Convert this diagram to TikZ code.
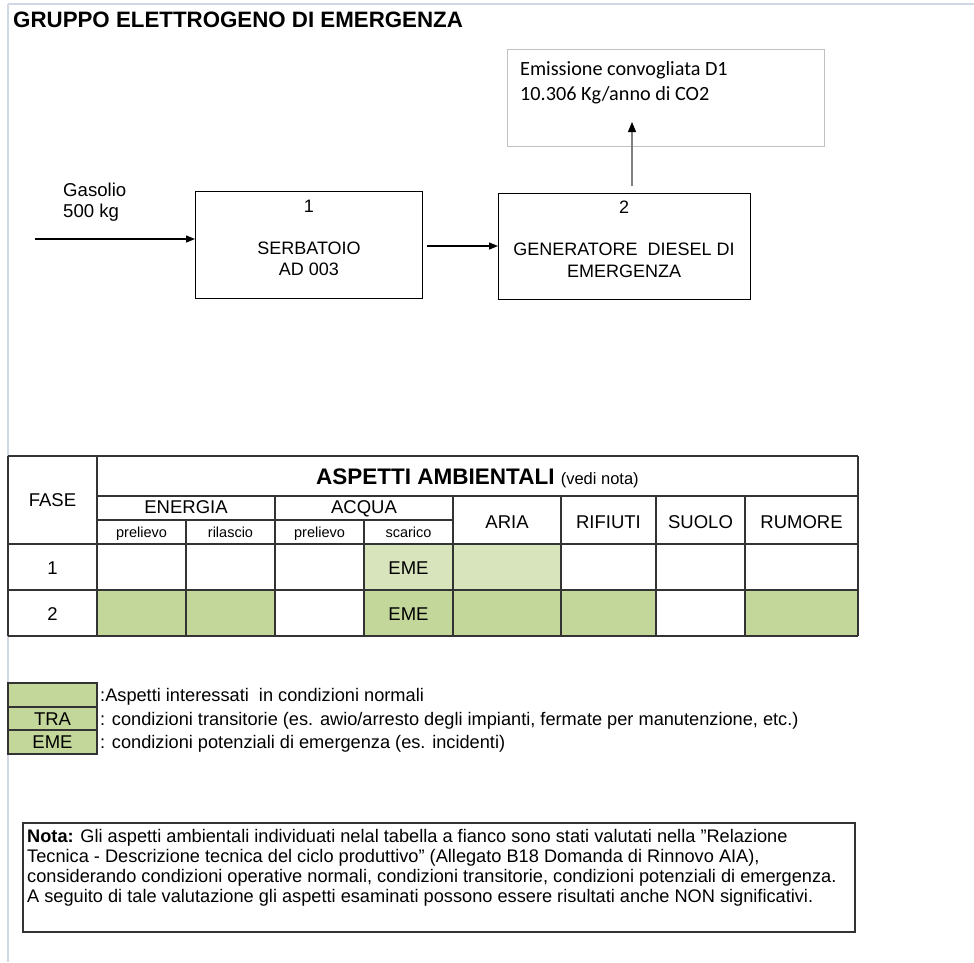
\documentclass[tikz,border=0pt]{standalone}
\usepackage{fontspec}
\setmainfont{Liberation Sans}
\newfontfamily\calib{Carlito}
\usetikzlibrary{arrows.meta}
\definecolor{dkg}{HTML}{C4D79B}
\definecolor{ltg}{HTML}{D8E4BC}
\definecolor{pageedge}{HTML}{D0D7E5}
\definecolor{boxgray}{HTML}{C0C0C0}
\definecolor{gridc}{HTML}{333333}
\begin{document}
\begin{tikzpicture}[x=1pt,y=-1pt,
  arr/.style={line width=1.2pt,-{Triangle[length=9pt,width=7pt]}},
  procbox/.style={draw=black,line width=1.3pt,anchor=north west,inner sep=0pt},
  txt/.style={anchor=base,inner sep=0pt,font=\fontsize{18}{21}\selectfont},
  tbl/.style={anchor=base,inner sep=0pt,font=\fontsize{18.5}{21}\selectfont},
  tsm/.style={anchor=base,inner sep=0pt,font=\fontsize{14.5}{17}\selectfont},
  leg/.style={anchor=base west,inner sep=0pt,font=\fontsize{18.2}{21}\selectfont},
  grid/.style={draw=gridc,line width=1.3pt}]
\useasboundingbox (0,0) rectangle (974,962);
% page edges
\draw[pageedge,line width=1.5pt] (8,4) -- (974,4);
\draw[pageedge,line width=1.5pt] (8,4) -- (8,962);

% title
\node[anchor=base west,inner sep=0pt,font=\bfseries\fontsize{22.3}{25}\selectfont] (title) at (13,27) {GRUPPO ELETTROGENO DI EMERGENZA};

% emission box
\node[draw=boxgray,line width=1.4pt,anchor=north west,inner sep=0pt,minimum width=317pt,minimum height=97pt] (emis) at (507,49) {};
\node[anchor=base west,inner sep=0pt,font=\calib\fontsize{20.2}{23}\selectfont] (em1) at (520,75) {Emissione convogliata D1};
\node[anchor=base west,inner sep=0pt,font=\calib\fontsize{20.2}{23}\selectfont] (em2) at (520,100) {10.306 Kg/anno di CO2};

% process boxes
\node[procbox,minimum width=227pt,minimum height=107pt] (b1) at (195,191) {};
\node[txt] (b1n) at (309,212) {1};
\node[txt] (b1a) at (309,254) {SERBATOIO};
\node[txt] (b1b) at (309,275) {AD 003};

\node[procbox,minimum width=252pt,minimum height=106pt] (b2) at (498,193) {};
\node[txt] (b2n) at (624,213) {2};
\node[txt] (b2a) at (624,255) {GENERATORE\ \ DIESEL DI};
\node[txt] (b2b) at (624,277) {EMERGENZA};

% input
\node[anchor=base west,inner sep=0pt,font=\fontsize{18.6}{21}\selectfont] (gas1) at (63,196) {Gasolio};
\node[anchor=base west,inner sep=0pt,font=\fontsize{18.6}{21}\selectfont] (gas2) at (63,217) {500 kg};
\coordinate (gin) at (35,239);
\draw[arr] (gin) -- (gin -| b1.west);
\coordinate (a12) at (427,246);
\draw[arr] (a12) -- (a12 -| b2.west);
\coordinate (e0) at (632,186);
\coordinate (e1) at (632,122);
\draw[line width=1.2pt,draw=gray,-{Triangle[length=10pt,width=8pt,color=black]}] (e0) -- (e1);

% table fills
\fill[ltg] (364,544) rectangle (561,590);
\fill[dkg] (97,590) rectangle (275,636);
\fill[dkg] (364,590) rectangle (656,636);
\fill[dkg] (745,590) rectangle (858,636);
% table grid
\draw[grid] (8,456) -- (858,456);
\draw[grid] (97,496) -- (858,496);
\draw[grid] (97,520) -- (453,520);
\draw[grid] (8,544) -- (858,544);
\draw[grid] (8,590) -- (858,590);
\draw[grid] (8,636) -- (858,636);
\draw[grid] (8,456) -- (8,636);
\draw[grid] (97,456) -- (97,636);
\draw[grid] (186,520) -- (186,636);
\draw[grid] (275,496) -- (275,636);
\draw[grid] (364,520) -- (364,636);
\foreach \xx in {453,561,656,745} {\draw[grid] (\xx,496) -- (\xx,636);}
\draw[grid] (858,456) -- (858,636);
% table text
\node[tbl] (fase) at (52.5,506) {FASE};
\node[anchor=base west,inner sep=0pt] (asp) at (316,484) {\bfseries\fontsize{22.5}{25}\selectfont ASPETTI AMBIENTALI \mdseries\fontsize{16.5}{19}\selectfont (vedi nota)};
\node[tbl] (ener) at (186,513) {ENERGIA};
\node[tbl] (acq) at (364,513) {ACQUA};
\node[tsm] (p1) at (141.5,537) {prelievo};
\node[tsm] (r1) at (230.5,537) {rilascio};
\node[tsm] (p2) at (319.5,537) {prelievo};
\node[tsm] (s1) at (408.5,537) {scarico};
\node[tbl] (aria) at (507,528) {ARIA};
\node[tbl] (rif) at (608.5,528) {RIFIUTI};
\node[tbl] (suo) at (700.5,528) {SUOLO};
\node[tbl] (rum) at (801.5,528) {RUMORE};
\node[tbl] (f1) at (52.5,574) {1};
\node[tbl] (f2) at (52.5,620) {2};
\node[tbl] (eme1) at (408.5,574) {EME};
\node[tbl] (eme2) at (408.5,620) {EME};

% legend
\fill[dkg] (8,683) rectangle (97,754);
\draw[grid] (8,683) rectangle (97,754);
\draw[grid] (8,707) -- (97,707);
\draw[grid] (8,730) -- (97,730);
\node[tbl] (ltra) at (52.5,725) {TRA};
\node[tbl] (leme) at (52.5,748) {EME};
\node[leg] (l1) at (100,701) {:Aspetti interessati\ \ in condizioni normali};
\node[leg] (l2) at (100,725) {: condizioni transitorie (es. awio/arresto degli impianti, fermate per manutenzione, etc.)};
\node[leg] (l3) at (100,748) {: condizioni potenziali di emergenza (es. incidenti)};

% nota
\draw[grid] (23,823) rectangle (855,932);
\node[leg] (n1) at (27,842) {\textbf{Nota:} Gli aspetti ambientali individuati nelal\ tabella a fianco sono stati valutati nella \char34 Relazione};
\node[leg] (n2) at (27,862) {Tecnica - Descrizione tecnica del ciclo produttivo\char34\ (Allegato B18 Domanda di Rinnovo AIA),};
\node[leg] (n3) at (27,882) {considerando condizioni operative normali, condizioni transitorie, condizioni potenziali di emergenza.};
\node[leg] (n4) at (27,902) {A seguito di tale valutazione\ gli aspetti esaminati\ possono essere risultati anche NON\ significativi.};
\end{tikzpicture}
\end{document}
